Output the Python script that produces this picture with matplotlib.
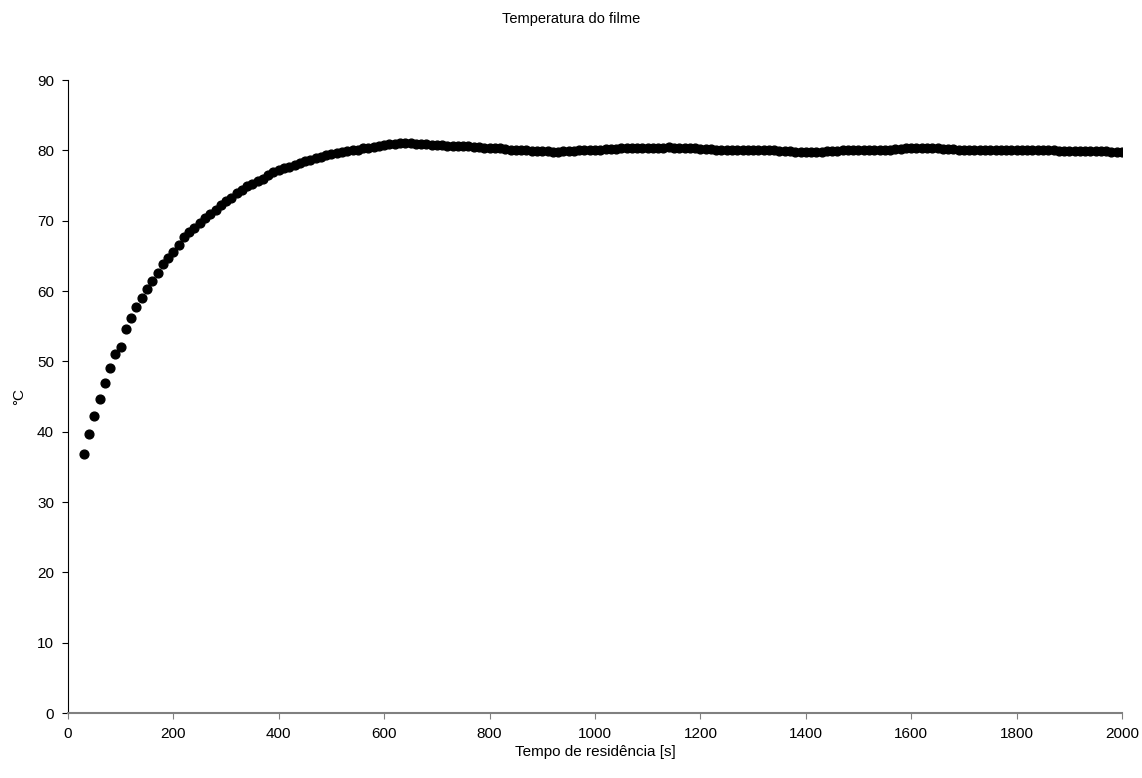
import matplotlib
matplotlib.use('Agg')
import matplotlib.pyplot as plt

plt.rcParams['font.family'] = ['Liberation Sans', 'DejaVu Sans']

# Residence time [s] and film temperature [°C]
time_s = list(range(30, 2001, 10))
temp_c = [
    36.9, 39.7, 42.3, 44.7, 46.9, 49.0, 51.1, 52.0, 54.6, 56.2,
    57.8, 59.0, 60.3, 61.5, 62.6, 63.8, 64.7, 65.6, 66.6, 67.7,
    68.4, 69.0, 69.7, 70.4, 71.0, 71.6, 72.2, 72.8, 73.3, 73.9,
    74.4, 74.9, 75.3, 75.6, 76.0, 76.5, 76.9, 77.2, 77.5, 77.7,
    78.0, 78.2, 78.5, 78.7, 78.9, 79.1, 79.3, 79.5, 79.7, 79.8,
    79.9, 80.0, 80.1, 80.3, 80.4, 80.5, 80.7, 80.8, 80.9, 80.9,
    81.0, 81.0, 81.0, 80.9, 80.9, 80.9, 80.8, 80.8, 80.8, 80.7,
    80.7, 80.7, 80.6, 80.6, 80.5, 80.5, 80.4, 80.4, 80.3, 80.3,
    80.2, 80.1, 80.1, 80.0, 80.0, 79.9, 79.9, 79.9, 79.9, 79.8,
    79.8, 79.9, 79.9, 79.9, 80.0, 80.0, 80.0, 80.1, 80.1, 80.2,
    80.2, 80.2, 80.3, 80.3, 80.3, 80.3, 80.3, 80.3, 80.4, 80.4,
    80.4, 80.5, 80.4, 80.4, 80.3, 80.3, 80.3, 80.2, 80.2, 80.2,
    80.1, 80.1, 80.0, 80.0, 80.0, 80.0, 80.0, 80.0, 80.0, 80.0,
    80.0, 80.0, 79.9, 79.9, 79.9, 79.8, 79.8, 79.8, 79.8, 79.8,
    79.8, 79.9, 79.9, 79.9, 80.0, 80.0, 80.0, 80.0, 80.0, 80.0,
    80.0, 80.1, 80.1, 80.1, 80.2, 80.2, 80.3, 80.3, 80.3, 80.3,
    80.3, 80.3, 80.3, 80.2, 80.2, 80.2, 80.1, 80.1, 80.1, 80.1,
    80.1, 80.1, 80.1, 80.1, 80.1, 80.1, 80.0, 80.0, 80.0, 80.0,
    80.0, 80.0, 80.0, 80.0, 80.0, 79.9, 79.9, 79.9, 79.9, 79.9,
    79.9, 79.9, 79.9, 79.9, 79.9, 79.8, 79.8, 79.8,
]

fig = plt.figure(figsize=(11.42, 7.78), dpi=100)
ax = fig.add_axes([0.0595, 0.0835, 0.923, 0.8135])

ax.scatter(time_s, temp_c, s=40, color='black', zorder=3)

ax.set_xlim(0, 2000)
ax.set_ylim(0, 90)
ax.set_xticks(range(0, 2001, 200))
ax.set_yticks(range(0, 91, 10))

for side in ['top', 'right']:
    ax.spines[side].set_visible(False)
ax.spines['left'].set_color('black')
ax.spines['left'].set_linewidth(0.8)
ax.spines['bottom'].set_color('#808080')
ax.spines['bottom'].set_linewidth(1.5)
ax.tick_params(axis='both', direction='out', length=4, labelsize=11, pad=6)
ax.tick_params(axis='x', color='#808080')

ax.set_xlabel('Tempo de residência [s]', fontsize=11, labelpad=3)
ax.set_ylabel('°C', fontsize=11, labelpad=8)
fig.suptitle('Temperatura do filme', fontsize=10.5, y=0.985)

fig.savefig('out.png', dpi=100)
